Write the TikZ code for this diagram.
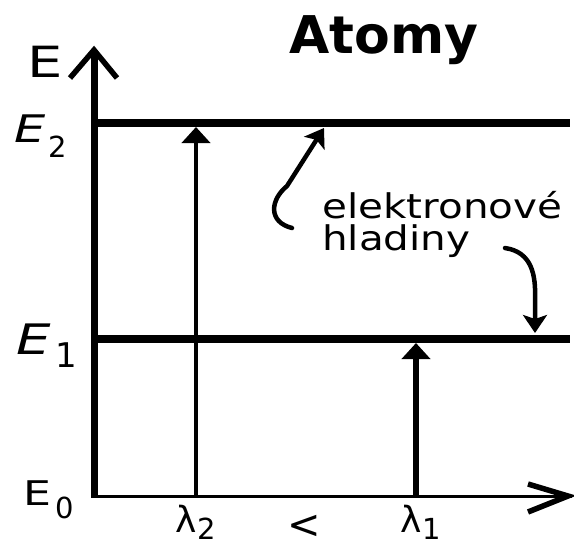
\documentclass[tikz,border=0pt]{standalone}
\usepackage{fontspec}
\setmainfont{DejaVu Sans}
\newfontfamily\widefont[FakeStretch=1.19]{DejaVu Sans}
\newfontfamily\Efont[FakeStretch=1.3]{DejaVu Sans}
\usetikzlibrary{arrows.meta}
\newcommand{\fsz}[1]{\fontsize{#1}{#1}\selectfont}
\begin{document}
\begin{tikzpicture}[x=1pt,y=-1pt,
  lbl/.style={inner sep=0pt, anchor=base west},
  levelline/.style={line width=8pt},
  yaxisline/.style={line width=7pt},
  xaxisline/.style={line width=3pt},
  chevron/.style={line width=5.5pt, line join=miter, line cap=butt},
  photon/.style={-{Triangle[length=16pt,width=28pt]}},
  curly/.style={line width=4.5pt, line cap=round, -{Stealth[length=18pt,width=24pt,inset=4pt]}}]
\useasboundingbox (0,0) rectangle (574,547);
\fill[white] (0,0) rectangle (574,547);

% coordinates
\coordinate (O) at (94,496);
\coordinate (Ytop) at (94,50);
\coordinate (Xend) at (572,496);
\coordinate (E2l) at (91,122.5);
\coordinate (E2r) at (570,122.5);
\coordinate (E1l) at (91,339);
\coordinate (E1r) at (570,339);
\coordinate (L2b) at (196,496);
\coordinate (L2t) at (196,127);
\coordinate (L1b) at (416,496);
\coordinate (L1t) at (416,343);
\coordinate (YA1) at (70,78);
\coordinate (YA2) at (117,78);
\coordinate (XA1) at (528,484);
\coordinate (XA2) at (528,512);
\coordinate (XT) at (568,496);
\coordinate (C1s) at (292,228);
\coordinate (C1m) at (287,186);
\coordinate (C1e) at (324,128);
\coordinate (C2s) at (505,248);
\coordinate (C2m) at (535,300);
\coordinate (C2e) at (535,333);

% title
\node[lbl, font=\bfseries\fsz{52}] (title) at (289,53) {Atomy};

% axes
\draw[yaxisline] (O) -- (Ytop);
\draw[chevron] (YA1) -- (Ytop) -- (YA2);
\draw[xaxisline] (91,496) -- (Xend);
\draw[chevron] (XA1) -- (XT) -- (XA2);

% levels
\draw[levelline] (E2l) -- (E2r);
\draw[levelline] (E1l) -- (E1r);

% photons
\draw[photon, line width=4pt] (L2b) -- (L2t);
\draw[photon, line width=6pt] (L1b) -- (L1t);

% labels
\node[lbl, font=\Efont\fsz{43}] (Elab) at (27,77) {E};
\node[lbl, font=\Efont\itshape\fsz{38}] (E2lab) at (14,142) {E};
\node[lbl, font=\fsz{29}] (E2sub) at (48,157) {2};
\node[lbl, font=\Efont\itshape\fsz{42}] (E1lab) at (16,354) {E};
\node[lbl, font=\fsz{34}] (E1sub) at (55,367) {1};
\node[lbl, font=\Efont\fsz{34}] (E0lab) at (23,505) {E};
\node[lbl, font=\fsz{29}] (E0sub) at (55,518) {0};

\node[lbl, font=\fsz{36}] (lam2) at (175,532) {λ};
\node[lbl, font=\fsz{29}] (lam2sub) at (197,539) {2};
\node[inner sep=0pt, font=\fsz{40}] (lt) at (304,527) {<};
\node[lbl, font=\fsz{36}] (lam1) at (400,532) {λ};
\node[lbl, font=\fsz{29}] (lam1sub) at (422,539) {1};

\node[lbl, font=\widefont\fsz{34}] (el1) at (322,218) {elektronové};
\node[lbl, font=\widefont\fsz{34}] (el2) at (322,250) {hladiny};

% pointer arrows
\draw[curly] (C1s) .. controls (268,222) and (270,200) .. (C1m) -- (C1e);
\draw[curly] (C2s) .. controls (532,252) and (536,275) .. (C2m) -- (C2e);
\end{tikzpicture}
\end{document}
